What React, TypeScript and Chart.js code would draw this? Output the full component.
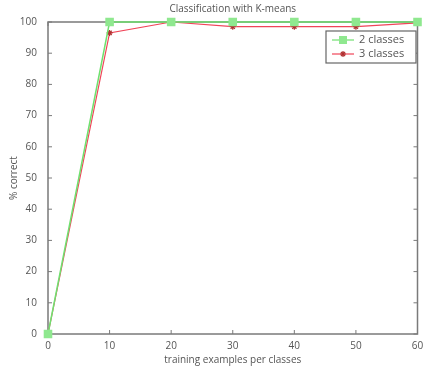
import React, { useEffect, useRef } from "react";
import { Chart, registerables } from "chart.js";
Chart.register(...registerables);

const trainingExamples = [0, 10, 20, 30, 40, 50, 60];
const twoClasses = [0, 100, 100, 100, 100, 100, 100];
const threeClasses = [0, 96.5, 100, 98.5, 98.5, 98.5, 99.7];
const xTicks = [0, 10, 20, 30, 40, 50, 60];
const yTicks = [0, 10, 20, 30, 40, 50, 60, 70, 80, 90, 100];
const seriesLabels = ["2 classes", "3 classes"];

const FONT = "'Open Sans', 'DejaVu Sans', sans-serif";
const AXIS = "#7a7a7a";
const TEXT = "#555";

const framePlugin = {
  id: "frame",
  beforeDatasetsDraw(chart: any) {
    const { ctx, chartArea: a, scales } = chart;
    ctx.save();
    ctx.strokeStyle = AXIS;
    ctx.lineWidth = 1.5;
    ctx.strokeRect(a.left, a.top, a.right - a.left, a.bottom - a.top);
    ctx.lineWidth = 1;
    const L = 4;
    xTicks.forEach((v) => {
      const x = scales.x.getPixelForValue(v);
      ctx.beginPath();
      ctx.moveTo(x, a.bottom);
      ctx.lineTo(x, a.bottom - L);
      ctx.moveTo(x, a.top);
      ctx.lineTo(x, a.top + L);
      ctx.stroke();
    });
    yTicks.forEach((v) => {
      const y = scales.y.getPixelForValue(v);
      ctx.beginPath();
      ctx.moveTo(a.left, y);
      ctx.lineTo(a.left + L, y);
      ctx.moveTo(a.right, y);
      ctx.lineTo(a.right - L, y);
      ctx.stroke();
    });
    // titles
    ctx.fillStyle = TEXT;
    ctx.font = `10px ${FONT}`;
    ctx.textAlign = "center";
    ctx.textBaseline = "middle";
    const cx = (a.left + a.right) / 2;
    ctx.fillText("Classification with K-means", cx, 9);
    ctx.fillText("training examples per classes", cx, 360);
    ctx.save();
    ctx.translate(14, (a.top + a.bottom) / 2);
    ctx.rotate(-Math.PI / 2);
    ctx.fillText("% correct", 0, 0);
    ctx.restore();
    ctx.restore();
  },
  afterDatasetsDraw(chart: any) {
    const { ctx } = chart;
    ctx.save();
    ctx.textBaseline = "middle";
    // legend
    const bx = 326, by = 31, bw = 90, bh = 32;
    ctx.fillStyle = "#fff";
    ctx.fillRect(bx, by, bw, bh);
    ctx.strokeStyle = "#666";
    ctx.lineWidth = 1.2;
    ctx.strokeRect(bx, by, bw, bh);
    chart.data.datasets.forEach((ds: any, i: number) => {
      const y = by + 9 + i * 14;
      ctx.strokeStyle = ds.borderColor;
      ctx.lineWidth = 1.2;
      ctx.beginPath();
      ctx.moveTo(bx + 6, y);
      ctx.lineTo(bx + 28, y);
      ctx.stroke();
      ctx.fillStyle = ds.pointBackgroundColor;
      ctx.strokeStyle = ds.pointBorderColor;
      if (ds.pointStyle === "rect") {
        ctx.fillRect(bx + 13, y - 4, 8, 8);
      } else {
        ctx.beginPath();
        for (let k = 0; k < 4; k++) {
          const ang = (k * Math.PI) / 4;
          ctx.moveTo(bx + 17 - 3 * Math.cos(ang), y - 3 * Math.sin(ang));
          ctx.lineTo(bx + 17 + 3 * Math.cos(ang), y + 3 * Math.sin(ang));
        }
        ctx.stroke();
      }
      ctx.fillStyle = TEXT;
      ctx.font = `11px ${FONT}`;
      ctx.textAlign = "left";
      ctx.fillText(ds.label, bx + 33, y);
    });
    ctx.restore();
  },
};

export default function App() {
  const ref = useRef<HTMLCanvasElement>(null);
  useEffect(() => {
    document.body.style.margin = "0";
    const chart = new Chart(ref.current!, {
      type: "line",
      data: {
        datasets: [
          {
            label: seriesLabels[0],
            data: trainingExamples.map((x, i) => ({ x, y: twoClasses[i] })),
            borderColor: "#6fe06f",
            borderWidth: 1.5,
            pointStyle: "rect",
            pointRadius: 5,
            pointBackgroundColor: "#8fe88f",
            pointBorderColor: "#8fe88f",
            clip: false,
          },
          {
            label: seriesLabels[1],
            data: trainingExamples.map((x, i) => ({ x, y: threeClasses[i] })),
            borderColor: "#f04458",
            borderWidth: 1.2,
            pointStyle: "star",
            pointRadius: 3,
            pointBackgroundColor: "#b03030",
            pointBorderColor: "#b03030",
            clip: false,
          },
        ],
      },
      options: {
        animation: false,
        responsive: false,
        layout: { padding: { top: 22, right: 4, left: 8, bottom: 0 } },
        plugins: { legend: { display: false }, tooltip: { enabled: false }, title: { display: false } },
        scales: {
          x: {
            type: "linear",
            min: 0,
            max: 60,
            afterFit: (s: any) => { s.height = 38; },
            afterBuildTicks: (s: any) => { s.ticks = xTicks.map((v) => ({ value: v })); },
            grid: { display: false },
            border: { display: false },
            ticks: { color: TEXT, font: { size: 10, family: FONT }, padding: -2, maxRotation: 0 },
          },
          y: {
            min: 0,
            max: 100,
            afterFit: (s: any) => { s.width = 40; },
            afterBuildTicks: (s: any) => { s.ticks = yTicks.map((v) => ({ value: v })); },
            grid: { display: false },
            border: { display: false },
            ticks: { color: TEXT, font: { size: 10, family: FONT }, padding: 3 },
          },
        },
      },
      plugins: [framePlugin],
    });
    return () => chart.destroy();
  }, []);
  return (
    <div style={{ width: 424, height: 372, background: "#fff" }}>
      <canvas ref={ref} width={424} height={372} />
    </div>
  );
}
